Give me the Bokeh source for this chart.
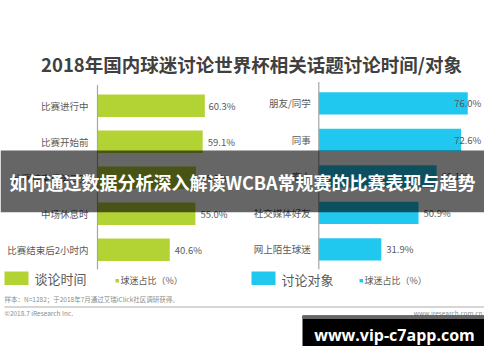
from bokeh.plotting import figure
from bokeh.models import Range1d, ColumnDataSource
from bokeh.core.properties import value
from bokeh.embed import file_html
from bokeh.resources import INLINE

# ---- data ----
title_text = "2018年国内球迷讨论世界杯相关话题讨论时间/对象"
time_cats = ["比赛进行中", "比赛开始前", "比赛结束后第二天", "中场休息时", "比赛结束后2小时内"]
time_vals = [60.3, 59.1, 55.3, 55.0, 40.6]
obj_cats = ["朋友/同学", "同事", "家人", "社交媒体好友", "网上陌生球迷"]
obj_vals = [76.0, 72.6, 60.1, 50.9, 31.9]
legend_left = "谈论时间"
legend_right = "讨论对象"
legend_sub = "球迷占比（%）"
note_text = "样本：N=1282；于2018年7月通过艾瑞iClick社区调研获得。"
copyright_text = "©2018.7 iResearch Inc."
site_text = "www.iresearch.com.cn"
banner_text = "如何通过数据分析深入解读WCBA常规赛的比赛表现与趋势"
watermark_text = "www.vip-c7app.com"

GREEN = "#b3d335"
BLUE = "#20c8f0"
LABEL = "#595959"
CJK = value("Noto Sans CJK SC")

W, H = 484, 346
p = figure(width=W, height=H, x_range=Range1d(0, W), y_range=Range1d(H, 0),
           output_backend="svg", toolbar_location=None, min_border=0,
           x_axis_location=None, y_axis_location=None, background_fill_color="white")
p.grid.visible = False
p.outline_line_color = None

p.extra_x_ranges = {"lx": Range1d(-54.49, 217.42), "rx": Range1d(-162.4, 84.54)}
p.extra_y_ranges = {"ly": Range1d(6.686, -2.925), "ry": Range1d(6.663, -2.816)}

def src(cats, vals, clamp):
    return ColumnDataSource(dict(
        idx=list(range(len(cats))), cat=cats, val=vals,
        lab=[f"{v:.1f}%" for v in vals], labx=[min(v, clamp) for v in vals]))

ls = src(time_cats, time_vals, 59.5)
rs = src(obj_cats, obj_vals, 66.5)

# title
p.text(x=[251], y=[63], text=[title_text], text_align="center", text_baseline="middle",
       text_font=CJK, text_font_style="bold", text_font_size="18.5px", text_color="#404040")

for s, xr, yr, col, h, coff in [(ls, "lx", "ly", GREEN, 0.625, -9), (rs, "rx", "ry", BLUE, 0.61, -8)]:
    p.hbar(y="idx", left=0, right="val", height=h, source=s, x_range_name=xr, y_range_name=yr,
           fill_color=col, line_color=None)
    p.segment(x0=0, x1=0, y0=-0.58, y1=len(s.data["idx"]) - 0.45, x_range_name=xr, y_range_name=yr,
              line_color="#a6a6a6", line_width=1.2)
    p.text(x=0, y="idx", text="cat", source=s, x_range_name=xr, y_range_name=yr, x_offset=coff,
           text_align="right", text_baseline="middle", text_font=CJK, text_font_size="9.5px",
           text_color=LABEL)
    p.text(x="labx", y="idx", text="lab", source=s, x_range_name=xr, y_range_name=yr, x_offset=5,
           text_align="left", text_baseline="middle", text_font=CJK, text_font_size="9.5px",
           text_color=LABEL)

# legend
p.quad(left=[4, 251], right=[28, 275], top=[271, 271], bottom=[284.5, 284.5],
       fill_color=[GREEN, BLUE], line_color=None)
p.text(x=[34, 281], y=[278, 279], text=[legend_left, legend_right], text_align="left",
       text_baseline="middle", text_font=CJK, text_font_size="13px", text_color=LABEL)
p.quad(left=[115, 359], right=[118.5, 362.5], top=[278.5, 278.5], bottom=[282, 282],
       fill_color=[GREEN, BLUE], line_color=None)
p.text(x=[120, 364], y=[280, 280], text=[legend_sub, legend_sub], text_align="left",
       text_baseline="middle", text_font=CJK, text_font_size="9px", text_color=LABEL)

# footer
p.text(x=[4], y=[298.5], text=[note_text], text_align="left", text_baseline="middle",
       text_font=CJK, text_font_size="6.5px", text_color="#8c8c8c")
p.segment(x0=[4], x1=[496], y0=[306.5], y1=[306.5], line_color="#c8c8c8", line_width=1.5)
p.text(x=[4], y=[312], text=[copyright_text], text_align="left", text_baseline="middle",
       text_font=CJK, text_font_size="6.5px", text_color="#8c8c8c")
p.text(x=[482], y=[312], text=[site_text], text_align="right", text_baseline="middle",
       text_font=CJK, text_font_size="6.5px", text_color="#8c8c8c")

# banner overlay
p.quad(left=[0], right=[W], top=[150], bottom=[211.7], fill_color="black", fill_alpha=0.6,
       line_color=None)
p.text(x=[W / 2], y=[181.5], text=[banner_text], text_align="center", text_baseline="middle",
       text_font=CJK, text_font_style="bold", text_font_size="18px", text_color="white")

# watermark
p.quad(left=[302], right=[491], top=[315], bottom=[353], fill_color="black", line_color=None)
p.quad(left=[302], right=[491], top=[315], bottom=[318.5], fill_color="#666666", line_color=None)
p.text(x=[394], y=[334.5], text=[watermark_text], text_align="center", text_baseline="middle",
       text_font=value("Open Sans"), text_font_style="bold", text_font_size="16px",
       text_color="white")

open("out.html", "w").write(file_html(p, INLINE))
